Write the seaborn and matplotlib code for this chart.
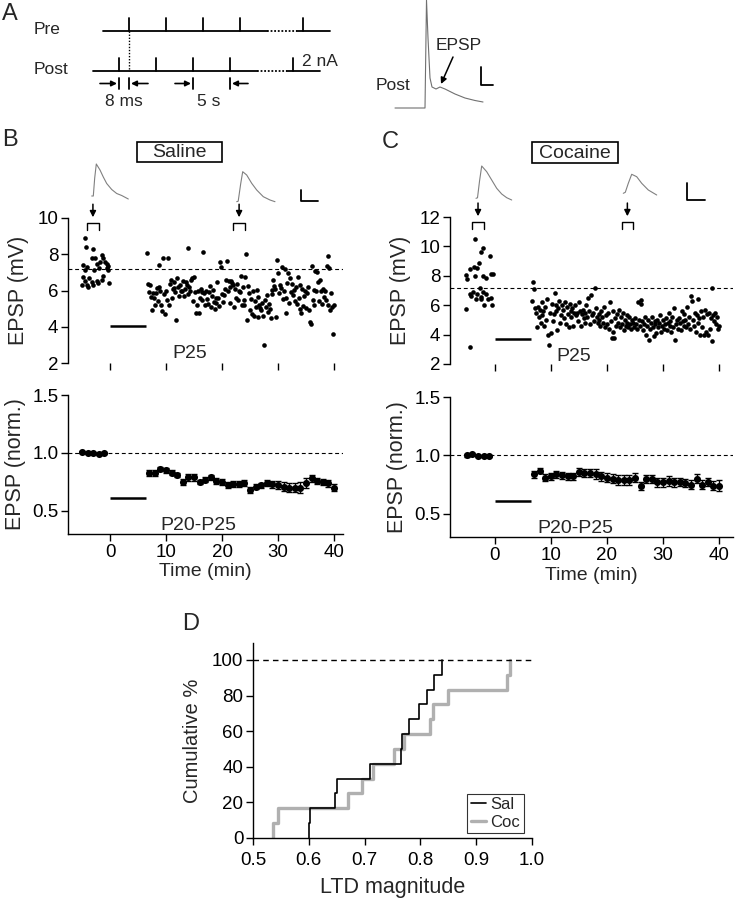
import numpy as np
import matplotlib
matplotlib.use("Agg")
import matplotlib.pyplot as plt
from matplotlib.patches import Rectangle
import seaborn as sns

# ---------------- data ----------------
sweep_min = 1 / 6  # one sweep every 10 s

# B, saline: raw EPSP amplitude (mV)
sal_base_t = [-5.06, -4.88, -4.76, -4.46, -4.46, -4.46, -4.29, -4.17, -4.17, -3.87, -3.69,
              -3.27, -3.27, -2.98, -2.98, -2.86, -2.68, -2.38, -2.38, -2.08, -1.90, -1.79,
              -1.49, -1.49, -1.19, -1.19, -0.89, -0.60, -0.60, -0.30, -0.30, -0.18]
sal_base_v = [6.30, 7.40, 6.76, 8.88, 7.13, 6.53, 8.41, 7.31, 6.30, 6.17, 6.70,
              7.77, 6.49, 8.29, 6.30, 7.13, 7.81, 7.44, 6.53, 6.39, 7.22, 7.55,
              7.96, 6.58, 7.77, 6.81, 7.59, 7.44, 7.22, 7.36, 7.13, 6.39]
sal_post_start = 6.67
sal_post_v = [
    8.05, 6.34, 5.90, 6.30, 5.66, 4.92, 5.88, 5.59, 5.20, 5.87, 6.13, 5.40,
    7.40, 6.22, 5.95, 5.20, 4.85, 7.81, 5.80, 4.70, 6.00, 5.50, 7.81, 5.20,
    6.34, 6.58, 5.60, 6.06, 6.15, 6.49, 5.90, 4.35, 6.70, 6.20, 5.70, 6.30,
    5.97, 5.95, 6.53, 5.70, 6.06, 6.45, 6.30, 5.80, 8.33, 6.20, 5.95, 6.60,
    6.68, 5.40, 6.76, 5.90, 4.75, 5.20, 6.00, 4.75, 5.60, 6.10, 5.90, 5.50,
    8.14, 5.85, 5.20, 6.00, 5.55, 5.25, 5.90, 6.25, 5.10, 5.70, 6.05, 5.35,
    5.00, 5.60, 5.30, 6.45, 5.60, 5.15, 7.60, 7.30, 5.80, 5.35, 5.75, 6.10,
    6.60, 7.65, 5.95, 6.55, 6.20, 5.30, 6.50, 6.40, 6.30, 5.10, 6.10, 5.60,
    6.35, 5.45, 6.00, 5.90, 6.80, 5.20, 6.20, 5.50, 5.20, 6.75, 8.00, 4.40,
    6.25, 5.85, 4.90, 5.55, 4.70, 6.00, 4.60, 5.40, 5.10, 6.05, 4.55, 5.65,
    5.20, 5.05, 4.95, 5.30, 4.60, 3.00, 5.45, 5.10, 5.75, 4.80, 5.25, 5.00,
    4.50, 6.05, 5.80, 6.60, 6.25, 6.10, 4.55, 7.70, 6.95, 5.85, 6.30, 6.15,
    7.30, 5.55, 6.00, 7.20, 5.60, 4.75, 6.40, 6.95, 5.30, 6.70, 5.90, 6.35,
    5.75, 6.05, 5.40, 6.20, 5.25, 6.75, 5.60, 5.00, 6.30, 4.75, 6.10, 5.15,
    5.70, 6.00, 5.05, 5.85, 6.20, 4.95, 4.25, 4.15, 7.35, 5.50, 6.05, 5.20,
    7.10, 5.95, 7.00, 6.45, 5.40, 6.60, 5.95, 5.25, 6.10, 5.65, 6.00, 5.50,
    7.35, 7.90, 5.20, 7.25, 4.95, 5.85, 5.10, 3.60, 5.20]

# C, cocaine: raw EPSP amplitude (mV)
coc_base_t = [-5.18, -5.06, -4.94, -4.46, -4.46, -4.35, -4.17, -3.87, -3.75, -3.57, -3.57,
              -3.33, -3.27, -3.15, -2.80, -2.68, -2.50, -2.38, -2.38, -2.08, -2.08, -2.08,
              -1.85, -1.49, -1.49, -1.25, -0.89, -0.60, -0.60, -0.45, -0.25]
coc_base_v = [5.74, 8.05, 7.80, 8.47, 6.75, 3.18, 6.60, 6.88, 8.62, 10.50, 8.00,
              6.45, 6.75, 8.51, 8.85, 7.15, 6.45, 9.64, 6.54, 9.91, 8.00, 6.88,
              6.00, 7.87, 6.75, 6.45, 9.37, 8.10, 6.50, 6.00, 8.15]
coc_post_start = 6.67
coc_post_v = [
    6.30, 7.55, 7.10, 5.80, 5.50, 4.50, 5.90, 5.20, 5.70, 4.80, 6.20, 5.30,
    5.60, 4.60, 5.90, 5.00, 6.40, 4.00, 3.30, 5.50, 4.10, 6.10, 4.90, 5.40,
    6.80, 5.60, 6.00, 4.30, 5.80, 6.30, 4.80, 5.30, 6.00, 5.70, 5.10, 6.20,
    4.70, 5.90, 5.40, 4.50, 6.10, 5.60, 5.20, 5.80, 4.60, 5.50, 6.00, 5.30,
    5.50, 4.90, 6.20, 5.60, 4.60, 5.40, 5.70, 5.10, 4.80, 5.50, 6.00, 5.20,
    6.50, 5.60, 4.70, 6.70, 5.30, 5.50, 4.90, 7.20, 5.80, 5.20, 4.80, 5.40,
    5.00, 4.60, 5.60, 5.20, 4.80, 5.90, 4.50, 5.30, 4.70, 5.50, 4.40, 6.20,
    4.90, 3.80, 5.60, 4.20, 3.75, 5.10, 4.60, 5.40, 4.80, 5.70, 4.50, 5.20,
    4.70, 5.50, 4.30, 5.00, 4.60, 5.30, 4.80, 4.50, 5.20, 4.70, 4.40, 5.00,
    4.80, 4.50, 5.10, 4.70, 4.40, 6.25, 5.00, 4.60, 6.35, 6.10, 4.90, 4.30,
    4.70, 5.20, 4.00, 4.60, 5.00, 3.60, 4.40, 4.80, 5.20, 4.50, 3.90, 4.70,
    4.90, 4.10, 5.00, 4.50, 4.80, 5.30, 4.20, 4.60, 5.00, 4.40, 4.70, 5.10,
    4.30, 4.80, 5.50, 4.60, 4.90, 4.20, 5.20, 4.50, 5.80, 3.60, 4.70, 5.00,
    4.40, 5.10, 4.80, 4.30, 5.60, 4.90, 4.60, 5.40, 5.00, 4.50, 5.90, 4.70,
    5.20, 4.40, 6.60, 6.30, 5.00, 4.60, 5.50, 4.20, 5.30, 4.80, 6.40, 5.10,
    4.00, 5.60, 4.50, 5.20, 4.00, 5.70, 4.20, 5.40, 3.95, 5.50, 4.40, 5.10,
    3.55, 7.20, 5.30, 4.90, 5.50, 4.70, 5.20, 4.40, 4.60]

# normalised group averages (one point per minute)
norm_base_t = [-5, -4, -3, -2, -1]
norm_post_t = list(range(7, 41))
sal_norm_base = [1.01, 1.00, 1.00, 0.99, 1.00]
sal_norm_base_err = [0.01, 0.01, 0.01, 0.01, 0.01]
sal_norm_post = [0.83, 0.83, 0.86, 0.85, 0.83, 0.81, 0.75, 0.79, 0.79, 0.75, 0.77, 0.79,
                 0.76, 0.75, 0.72, 0.73, 0.73, 0.74, 0.68, 0.71, 0.72, 0.74, 0.73, 0.72,
                 0.71, 0.70, 0.70, 0.70, 0.74, 0.78, 0.76, 0.75, 0.74, 0.70]
sal_norm_err = [0.025, 0.025, 0.02, 0.02, 0.02, 0.02, 0.025, 0.03, 0.03, 0.02, 0.02, 0.02,
                0.025, 0.025, 0.025, 0.025, 0.025, 0.025, 0.025, 0.02, 0.02, 0.025, 0.03, 0.035,
                0.04, 0.04, 0.04, 0.045, 0.04, 0.03, 0.025, 0.025, 0.03, 0.03]
coc_norm_base = [1.00, 1.01, 0.995, 0.995, 0.995]
coc_norm_base_err = [0.01, 0.01, 0.01, 0.01, 0.01]
coc_norm_post = [0.84, 0.87, 0.81, 0.82, 0.84, 0.83, 0.82, 0.82, 0.86, 0.85, 0.85, 0.84,
                 0.82, 0.81, 0.80, 0.79, 0.79, 0.79, 0.81, 0.74, 0.80, 0.80, 0.77, 0.77,
                 0.78, 0.77, 0.77, 0.76, 0.75, 0.80, 0.75, 0.77, 0.74, 0.74]
coc_norm_err = [0.03, 0.02, 0.03, 0.03, 0.03, 0.03, 0.03, 0.03, 0.035, 0.035, 0.035, 0.04,
                0.04, 0.04, 0.04, 0.04, 0.04, 0.04, 0.04, 0.035, 0.035, 0.035, 0.04, 0.04,
                0.04, 0.04, 0.035, 0.035, 0.035, 0.04, 0.035, 0.035, 0.04, 0.045]

# D: LTD magnitude per cell
sal_ltd = [0.600, 0.603, 0.647, 0.650, 0.710, 0.765, 0.767, 0.780, 0.797, 0.811, 0.824, 0.838]
coc_ltd = [0.535, 0.545, 0.670, 0.695, 0.715, 0.752, 0.770, 0.818, 0.822, 0.850, 0.955, 0.960]

baseline_mv = 7.2
pairing = [0, 6.5]
sal_windows = [(-4.1, -2.0), (22.0, 24.1)]
coc_windows = [(-4.0, -2.0), (22.7, 24.6)]

# sample traces (schematic pixel units: x right, y up from the start point)
sal_tr1_x = [0, 1.6, 3, 4.6, 8.3, 11.6, 15, 20, 25, 30, 36.6]
sal_tr1_y = [0, 0, 18, 32, 26, 19, 12.5, 6.5, 2.5, 0.5, -3]
sal_tr2_x = [0, 1.5, 4, 6, 10, 15, 20, 26.6, 33.3, 38.3]
sal_tr2_y = [0, 0.5, 18, 30, 26.7, 18.4, 11.7, 5, 1.7, 0]
coc_tr1_x = [0, 1.5, 3.5, 5.7, 10.7, 15.7, 20.7, 25.7, 30.7, 35.7]
coc_tr1_y = [0, 0.5, 17, 32.3, 26.6, 18.3, 10, 4.3, 0.6, -1.7]
coc_tr2_x = [0, 2, 5, 8.4, 13.4, 18.4, 25, 33.4]
coc_tr2_y = [0, 1, 10, 19, 16.6, 10, 3.3, -1.7]
ap_x = [0, 30, 31.5, 33, 35, 37, 41, 45, 50, 60, 70, 80, 88]
ap_y = [0, 0, 108, 70, 30, 21, 19, 21, 19, 14, 10, 7.5, 6]

# pairing protocol schematic
pre_spikes = [129, 166, 203, 240, 303]
post_spikes = [119, 156, 193, 230, 293]

# ---------------- style ----------------
sns.set_style("ticks")
plt.rcParams["font.family"] = ["Liberation Sans", "DejaVu Sans"]
plt.rcParams.update({
    "font.size": 13.5, "axes.labelsize": 14,
    "xtick.labelsize": 13.5, "ytick.labelsize": 13.5,
    "axes.linewidth": 1.0, "xtick.major.width": 1.0, "ytick.major.width": 1.0,
    "xtick.major.size": 5, "ytick.major.size": 5,
    "xtick.major.pad": 2, "ytick.major.pad": 2,
    "axes.edgecolor": "black", "xtick.color": "black", "ytick.color": "black",
})

W, H = 735, 900
fig = plt.figure(figsize=(7.35, 9.0), dpi=100)


def px_rect(left, top, right, bottom):
    return [left / W, 1 - bottom / H, (right - left) / W, (bottom - top) / H]


axB = fig.add_axes(px_rect(68, 218, 343, 363))
axBn = fig.add_axes(px_rect(68, 395, 343, 534))
axC = fig.add_axes(px_rect(450, 217, 733, 364))
axCn = fig.add_axes(px_rect(450, 397, 733, 537))
axD = fig.add_axes(px_rect(253, 643, 532, 838))

dash = (0, (3.5, 2.5))


def raw_panel(ax, base_t, base_v, post_start, post_v, xlim, ylim, yticks, windows, label_pos, bar_y):
    post_t = post_start + sweep_min * np.arange(len(post_v))
    t = np.r_[base_t, post_t]
    v = np.r_[base_v, post_v]
    sns.scatterplot(x=t, y=v, ax=ax, color="black", s=11, linewidth=0, zorder=3)
    ax.axhline(baseline_mv, color="black", ls=dash, lw=0.8)
    ax.set_xlim(xlim)
    ax.set_ylim(ylim)
    ax.set_yticks(yticks)
    ax.set_xticks([0, 10, 20, 30, 40])
    ax.set_xticklabels([])
    ax.set_ylabel("EPSP (mV)", labelpad=6, fontsize=15.5)
    sns.despine(ax=ax, bottom=True)
    span = ylim[1] - ylim[0]
    ax.plot(pairing, [bar_y, bar_y], color="black", lw=1.8, solid_capstyle="butt")
    ax.text(label_pos[0], label_pos[1], "P25", ha="center", va="center", fontsize=14)
    for lo, hi in windows:
        top = ylim[1] - 0.035 * span
        bot = ylim[1] - 0.082 * span
        ax.plot([lo, lo, hi, hi], [bot, top, top, bot], color="black", lw=1, clip_on=False)
        mid = (lo + hi) / 2
        ax.annotate("", xy=(mid, ylim[1] + 0.005 * span), xytext=(mid, ylim[1] + 0.095 * span),
                    arrowprops=dict(arrowstyle="-|>", color="black", lw=1.1, mutation_scale=9,
                                    shrinkA=0, shrinkB=0),
                    annotation_clip=False)


def norm_panel(ax, base, base_err, post, post_err, xlim, label_x):
    t = norm_base_t + norm_post_t
    v = base + post
    e = base_err + post_err
    ax.errorbar(t, v, yerr=e, fmt="none", ecolor="black", elinewidth=1, capsize=2.2,
                capthick=1, zorder=2)
    sns.scatterplot(x=t, y=v, ax=ax, color="black", s=26, linewidth=0, zorder=3)
    ax.axhline(1.0, color="black", ls=dash, lw=0.8)
    ax.plot(pairing, [0.61, 0.61], color="black", lw=1.8, solid_capstyle="butt")
    ax.set_xlim(xlim)
    ax.set_ylim(0.3, 1.5)
    ax.set_yticks([0.5, 1.0, 1.5])
    ax.set_yticklabels(["0.5", "1.0", "1.5"])
    ax.set_xticks([0, 10, 20, 30, 40])
    ax.set_xlabel("Time (min)", labelpad=2)
    ax.set_ylabel("EPSP (norm.)", labelpad=4, fontsize=15.5)
    ax.text(label_x, 0.37, "P20-P25", ha="center", va="center", fontsize=14)
    sns.despine(ax=ax)


raw_panel(axB, sal_base_t, sal_base_v, sal_post_start, sal_post_v, (-7.5, 41.6), (2, 10),
          [2, 4, 6, 8, 10], sal_windows, (14.3, 2.55), 4.05)
raw_panel(axC, coc_base_t, coc_base_v, coc_post_start, coc_post_v, (-8.0, 42.5), (2, 12),
          [2, 4, 6, 8, 10, 12], coc_windows, (14.1, 2.5), 3.7)
norm_panel(axBn, sal_norm_base, sal_norm_base_err, sal_norm_post, sal_norm_err, (-7.5, 41.6), 15.7)
norm_panel(axCn, coc_norm_base, coc_norm_base_err, coc_norm_post, coc_norm_err, (-8.0, 42.5), 14.3)

# D: cumulative distributions
sns.ecdfplot(x=sal_ltd, stat="percent", ax=axD, color="black", lw=1.2, label="Sal", zorder=3)
sns.ecdfplot(x=coc_ltd, stat="percent", ax=axD, color="#b0b0b0", lw=2.4, label="Coc", zorder=2)
axD.axhline(100, color="black", ls=(0, (4, 3)), lw=1)
axD.set_xlim(0.5, 1.0)
axD.set_ylim(0, 109.5)
axD.set_xticks([0.5, 0.6, 0.7, 0.8, 0.9, 1.0])
axD.set_xticklabels(["0.5", "0.6", "0.7", "0.8", "0.9", "1.0"])
axD.set_yticks([0, 20, 40, 60, 80, 100])
axD.tick_params(labelsize=13.5)
axD.tick_params(axis="x", pad=5)
axD.set_xlabel("LTD magnitude", labelpad=6, fontsize=15.5)
axD.set_ylabel("Cumulative %", labelpad=7, fontsize=14.5)
sns.despine(ax=axD)
leg = axD.legend(loc="lower right", bbox_to_anchor=(0.97, 0.025), borderaxespad=0,
                 frameon=True, fancybox=False, handlelength=0.9, handletextpad=0.3,
                 borderpad=0.2, labelspacing=0.15, fontsize=12)
leg.get_frame().set_edgecolor("black")
leg.get_frame().set_linewidth(0.8)

# ---------------- overlay: schematic parts, letters, traces ----------------
ov = fig.add_axes([0, 0, 1, 1])
ov.set_xlim(0, W)
ov.set_ylim(H, 0)
ov.axis("off")
ov.patch.set_alpha(0)

fs_a = 12.5
k = dict(color="black", lw=1.3)
for name, y, x0, xd0, xd1, x1, spikes in [("Pre", 31, 103, 267, 297, 330, pre_spikes),
                                          ("Post", 71, 93, 257, 287, 320, post_spikes)]:
    ov.plot([x0, xd0], [y, y], **k)
    ov.plot([xd0, xd1], [y, y], color="black", lw=1.3, ls=(0, (1, 1)))
    ov.plot([xd1, x1], [y, y], **k)
    for s in spikes:
        ov.plot([s, s], [y - 13.5, y], **k)
    ov.text(34, y - 2, name, ha="left", va="center", fontsize=fs_a)
ov.plot([pre_spikes[0], pre_spikes[0]], [31, 71], color="black", lw=1, ls=(0, (1, 1.2)))
ov.text(320, 62, "2 nA", ha="center", va="center", fontsize=fs_a)
for bar_x, tail in [(119, 100), (129, 148), (193, 175), (230, 248)]:
    ov.plot([bar_x, bar_x], [78, 89], **k)
    head = bar_x - 2 if tail < bar_x else bar_x + 2
    ov.annotate("", xy=(head, 83.5), xytext=(tail, 83.5),
                arrowprops=dict(arrowstyle="-|>", color="black", lw=1.2, mutation_scale=8,
                                shrinkA=0, shrinkB=0))
ov.text(124, 101, "8 ms", ha="center", va="center", fontsize=fs_a)
ov.text(209, 101, "5 s", ha="center", va="center", fontsize=fs_a)
ov.text(376, 85, "Post", ha="left", va="center", fontsize=fs_a)
ov.plot(395 + np.array(ap_x), 108 - np.array(ap_y), color="#707070", lw=0.8)
ov.text(436, 45, "EPSP", ha="left", va="center", fontsize=fs_a)
ov.annotate("", xy=(441, 84), xytext=(453, 57),
            arrowprops=dict(arrowstyle="-|>", color="black", lw=1.1, mutation_scale=9,
                            shrinkA=0, shrinkB=0))
ov.plot([481, 481, 493], [67, 85, 85], **k)

# panel letters
for letter, x, y in [("A", 2, 14), ("B", 2, 140), ("C", 382, 142), ("D", 182, 624)]:
    ov.text(x, y, letter, ha="left", va="center", fontsize=17)

# condition boxes
for label, x0, x1, y0, y1 in [("Saline", 137, 222, 142, 162), ("Cocaine", 532, 618, 142, 163)]:
    ov.add_patch(Rectangle((x0, y0), x1 - x0, y1 - y0, fill=False, ec="black", lw=1.2))
    ov.text((x0 + x1) / 2, (y0 + y1) / 2 + 0.5, label, ha="center", va="center", fontsize=14)

# sample traces and scale bars
for x0, y0, tx, ty in [(91.7, 196, sal_tr1_x, sal_tr1_y), (236.7, 201.7, sal_tr2_x, sal_tr2_y),
                       (476, 198.3, coc_tr1_x, coc_tr1_y), (623.3, 193.3, coc_tr2_x, coc_tr2_y)]:
    ov.plot(x0 + np.array(tx), y0 - np.array(ty), color="#808080", lw=0.8)
ov.plot([301, 301, 318], [190, 201, 201], **k)
ov.plot([687, 687, 705], [183, 200, 200], **k)

fig.savefig("out.png", dpi=100)
